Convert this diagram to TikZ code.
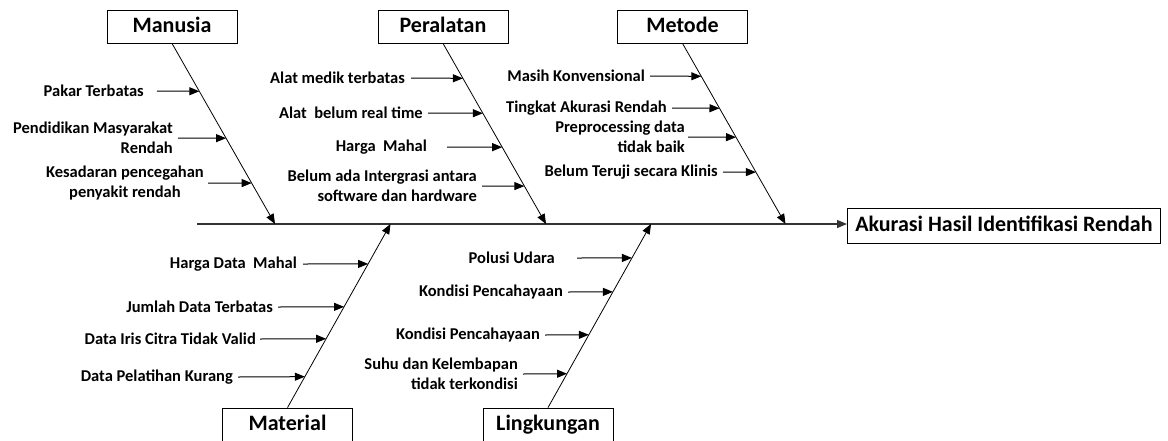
\documentclass[tikz,border=0pt]{standalone}
\usepackage{fontspec}
\setmainfont{Carlito}
\usetikzlibrary{positioning,arrows.meta,calc}

\begin{document}
\begin{tikzpicture}[x=1pt,y=-1pt,>={Triangle[length=10pt,width=8pt]},
  catbox/.style={draw,line width=0.8pt,minimum width=130pt,minimum height=33pt,inner sep=0pt,
    text height=15pt,text depth=4pt,font=\fontsize{22}{26}\selectfont\bfseries},
  causetxt/.style={font=\fontsize{16.5}{20}\selectfont\bfseries,inner sep=0pt,anchor=east},
  bone/.style={->,line width=0.8pt},
  twig/.style={->,line width=1pt}]
  \useasboundingbox (0,0) rectangle (1168,440);
  % head of the fish and the spine
  \node[draw,line width=0.8pt,anchor=west,minimum width=313pt,minimum height=35pt,inner sep=0pt,
    text height=15pt,text depth=4pt,font=\fontsize{22}{26}\selectfont\bfseries] (akibat) at (847,225.5) {Akurasi Hasil Identifikasi Rendah};
  \coordinate (ekor) at (197,224);
  \draw[->,line width=1.2pt,black!80] (ekor) -- (ekor-|akibat.west);
  % categories
  \node[catbox] (manusia) at (172,26.5) {Manusia};
  \node[catbox] (peralatan) at (443,26.5) {Peralatan};
  \node[catbox] (metode) at (682.5,26.5) {Metode};
  \node[catbox] (material) at (287.5,424.5) {Material};
  \node[catbox] (lingkungan) at (548,424.5) {Lingkungan};
  \coordinate (tMan) at (275,224); \coordinate (tPer) at (546,224); \coordinate (tMet) at (785.5,224);
  \coordinate (tMat) at (390.5,224); \coordinate (tLin) at (651,224);
  \draw[bone] (manusia.south) -- (tMan);
  \draw[bone] (peralatan.south) -- (tPer);
  \draw[bone] (metode.south) -- (tMet);
  \draw[bone] (material.north) -- (tMat);
  \draw[bone] (lingkungan.north) -- (tLin);
  % causes (y / right end of text / gap / alignment / text)
  \foreach \y/\xt/\g/\a/\t [count=\i] in {91/144/13/right/Pakar Terbatas,
      138/173/5/right/{Pendidikan Masyarakat\\Rendah},
      183/204/4/center/{Kesadaran pencegahan\\penyakit rendah}}{
    \pgfmathsetmacro\f{(\y-43)/181}
    \node[causetxt,align=\a] (man\i) at (\xt,\y) {\t};
    \draw[twig] (man\i.east) ++(\g,0) -- ($(manusia.south)!\f!(tMan)$);}
  \foreach \y/\xt/\g/\a/\t [count=\i] in {78/405/6/right/Alat medik terbatas,
      113/423/5/right/Alat\ \ belum real time,
      147/427/20/right/Harga\ \ Mahal,
      186/477/5/right/{Belum ada Intergrasi antara\\software dan hardware}}{
    \pgfmathsetmacro\f{(\y-43)/181}
    \node[causetxt,align=\a] (per\i) at (\xt,\y) {\t};
    \draw[twig] (per\i.east) ++(\g,0) -- ($(peralatan.south)!\f!(tPer)$);}
  \foreach \y/\xt/\g/\a/\t [count=\i] in {76/645/5/right/Masih Konvensional,
      108/667/5/right/Tingkat Akurasi Rendah,
      137/685/3/right/{Preprocessing data\\tidak baik},
      172/718/5/right/Belum Teruji secara Klinis}{
    \pgfmathsetmacro\f{(\y-43)/181}
    \node[causetxt,align=\a] (met\i) at (\xt,\y) {\t};
    \draw[twig] (met\i.east) ++(\g,0) -- ($(metode.south)!\f!(tMet)$);}
  \foreach \y/\xt/\g/\a/\t [count=\i] in {264/297/6/right/Harga Data\ \ Mahal,
      307/273/5/right/Jumlah Data Terbatas,
      339/256/4/right/Data Iris Citra Tidak Valid,
      377/233/5/right/Data Pelatihan Kurang}{
    \pgfmathsetmacro\f{(408-\y)/184}
    \node[causetxt,align=\a] (mat\i) at (\xt,\y) {\t};
    \draw[twig] (mat\i.east) ++(\g,0) -- ($(material.north)!\f!(tMat)$);}
  \foreach \y/\xt/\g/\a/\t [count=\i] in {258/555/22/right/Polusi Udara,
      292/563/5/right/Kondisi Pencahayaan,
      335/540/5/right/Kondisi Pencahayaan,
      374/518/5/right/{Suhu dan Kelembapan\\tidak terkondisi}}{
    \pgfmathsetmacro\f{(408-\y)/184}
    \node[causetxt,align=\a] (lin\i) at (\xt,\y) {\t};
    \draw[twig] (lin\i.east) ++(\g,0) -- ($(lingkungan.north)!\f!(tLin)$);}
\end{tikzpicture}
\end{document}
